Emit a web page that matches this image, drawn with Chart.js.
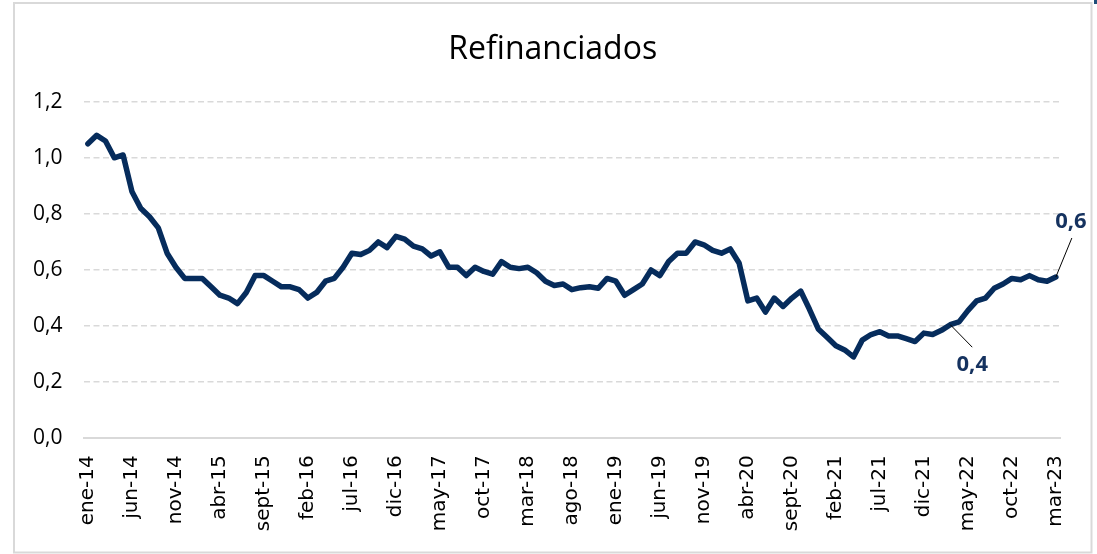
<!DOCTYPE html>
<html>
<head>
<meta charset="utf-8">
<script src="https://cdn.jsdelivr.net/npm/chart.js@4/dist/chart.umd.min.js"></script>
<style>
  html, body { margin: 0; padding: 0; background: #ffffff; }
  #wrap { position: relative; width: 1097px; height: 554px; }
  canvas { display: block; }
</style>
</head>
<body>
<div id="wrap"><canvas id="c" width="1097" height="554"></canvas></div>
<script>
// ---- data ----
const monthNames = ['ene','feb','mar','abr','may','jun','jul','ago','sept','oct','nov','dic'];
const startYear = 14;
const values = [
  1.05, 1.08, 1.06, 1.00, 1.01, 0.88, 0.82, 0.79, 0.75, 0.66, 0.61, 0.57,
  0.57, 0.57, 0.54, 0.51, 0.50, 0.48, 0.52, 0.58, 0.58, 0.56, 0.54, 0.54,
  0.53, 0.50, 0.52, 0.56, 0.57, 0.61, 0.66, 0.655, 0.67, 0.70, 0.68, 0.72,
  0.71, 0.685, 0.675, 0.65, 0.665, 0.61, 0.61, 0.58, 0.61, 0.595, 0.585, 0.63,
  0.61, 0.605, 0.61, 0.59, 0.56, 0.545, 0.55, 0.53, 0.537, 0.54, 0.535, 0.57,
  0.56, 0.51, 0.53, 0.55, 0.60, 0.58, 0.63, 0.66, 0.66, 0.70, 0.69, 0.67,
  0.66, 0.675, 0.625, 0.49, 0.50, 0.45, 0.50, 0.47, 0.50, 0.525, 0.46, 0.39,
  0.36, 0.33, 0.315, 0.29, 0.35, 0.37, 0.38, 0.365, 0.365, 0.355, 0.345, 0.375,
  0.37, 0.385, 0.405, 0.415, 0.455, 0.49, 0.50, 0.535, 0.55, 0.57, 0.565, 0.58,
  0.565, 0.56, 0.575
];
const categories = values.map((v, i) => monthNames[i % 12] + '-' + (startYear + Math.floor(i / 12)));
const yTickLabels = ['0,0', '0,2', '0,4', '0,6', '0,8', '1,0', '1,2'];
const labelEvery = 5;
const annotatedIdx = [98, 110];
const titleText = 'Refinanciados';

// ---- plugins ----
const framePlugin = {
  id: 'frame',
  afterLayout(chart) {
    // centre the title over the framed chart like the reference
    if (chart.titleBlock) { chart.titleBlock.left = 42; }
  },
  beforeDraw(chart) {
    const ctx = chart.ctx;
    ctx.save();
    ctx.fillStyle = '#ffffff';
    ctx.fillRect(0, 0, chart.width, chart.height);
    ctx.strokeStyle = '#d9d9d9';
    ctx.lineWidth = 2;
    ctx.strokeRect(14, 3, 1077.5, 549.5);
    ctx.fillStyle = '#1f4e79';
    ctx.fillRect(1094, 0, 3, 4);
    ctx.restore();
  }
};

const annotPlugin = {
  id: 'annot',
  afterDatasetsDraw(chart) {
    const ctx = chart.ctx;
    const meta = chart.getDatasetMeta(0);
    const offsets = {98: {lx: 22, ly: 22.5, tx: 22, ty: 40}, 110: {lx: 16, ly: -39, tx: 15, ty: -55}};
    ctx.save();
    annotatedIdx.forEach(i => {
      const p = meta.data[i];
      const o = offsets[i];
      ctx.strokeStyle = '#000000';
      ctx.lineWidth = 1;
      ctx.beginPath();
      ctx.moveTo(p.x, p.y);
      ctx.lineTo(p.x + o.lx, p.y + o.ly);
      ctx.stroke();
      ctx.fillStyle = '#15325f';
      ctx.font = 'bold 22px "Open Sans"';
      ctx.textAlign = 'center';
      ctx.textBaseline = 'middle';
      ctx.fillText(values[i].toFixed(1).replace('.', ','), p.x + o.tx, p.y + o.ty);
    });
    ctx.restore();
  }
};

new Chart(document.getElementById('c'), {
  type: 'line',
  data: {
    labels: categories,
    datasets: [{
      data: values,
      borderColor: '#062c5c',
      borderWidth: 5.5,
      pointRadius: 0,
      tension: 0,
      borderJoinStyle: 'round',
      borderCapStyle: 'round',
      fill: false
    }]
  },
  options: {
    responsive: false,
    animation: false,
    devicePixelRatio: 1,
    layout: { padding: { left: 0, right: 33.5, top: 0, bottom: 0 } },
    plugins: {
      legend: { display: false },
      tooltip: { enabled: false },
      title: {
        display: true,
        text: titleText,
        color: '#000000',
        font: { family: '"Open Sans"', size: 32, weight: 'normal', lineHeight: 1.2 },
        padding: { top: 31, bottom: 32.3 }
      }
    },
    scales: {
      x: {
        type: 'category',
        offset: true,
        grid: { display: false, drawTicks: false },
        border: { display: true, color: '#d9d9d9', width: 2 },
        ticks: {
          autoSkip: false,
          maxRotation: 90,
          minRotation: 90,
          padding: 17,
          color: '#000000',
          font: { family: '"DejaVu Sans"', size: 20 },
          callback: function (value, index) {
            return index % labelEvery === 0 ? categories[index] : null;
          }
        },
        afterFit: s => { s.height = 115.7; }
      },
      y: {
        min: 0,
        max: 1.2,
        grid: {
          drawTicks: false,
          lineWidth: 1.5,
          color: c => (c.tick && c.tick.value === 0) ? 'rgba(0,0,0,0)' : '#d9d9d9'
        },
        border: { display: false, dash: [6, 3.5] },
        ticks: {
          stepSize: 0.2,
          padding: 21,
          color: '#000000',
          font: { family: '"Open Sans"', size: 21 },
          callback: function (value, index) { return yTickLabels[index]; }
        },
        afterFit: s => { s.width = 83.5; }
      }
    }
  },
  plugins: [framePlugin, annotPlugin]
});
</script>
</body>
</html>
